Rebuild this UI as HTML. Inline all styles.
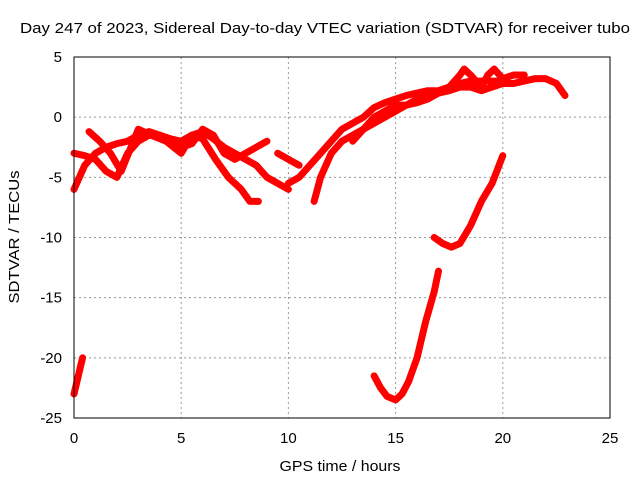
<!DOCTYPE html>
<html><head><meta charset="utf-8"><style>
body{margin:0;background:#fff}
svg{display:block;font-family:"Liberation Sans",sans-serif}
</style></head><body>
<svg id="chart" width="640" height="480">
<rect width="640" height="480" fill="#fff"/>
<text x="325" y="33" font-size="15" text-anchor="middle" textLength="610" lengthAdjust="spacingAndGlyphs">Day 247 of 2023, Sidereal Day-to-day VTEC variation (SDTVAR) for receiver tubo</text>
<text x="340" y="471" font-size="15" text-anchor="middle" textLength="121" lengthAdjust="spacingAndGlyphs">GPS time / hours</text>
<text transform="translate(19,237) rotate(-90)" font-size="15" text-anchor="middle" textLength="133" lengthAdjust="spacingAndGlyphs">SDTVAR / TECUs</text>
<g id="grid"></g><g id="series"></g>
<rect x="74" y="57" width="536" height="361" fill="none" stroke="#000"/>
</svg>
<script>
const xTicks=[0,5,10,15,20,25];
const yTicks=[5,0,-5,-10,-15,-20,-25];
const s1x=[0,0.5,1,1.5,2,2.5,3,3.5,4,4.5,5,5.5,6,6.5,7,7.5,8,8.5,9,9.5,10];
const s1y=[-6,-4,-3,-2.5,-2.2,-2,-1.5,-1.2,-1.5,-1.8,-2,-1.5,-1.2,-1.8,-2.5,-3,-3.5,-4,-5,-5.5,-6];
const s2x=[0,0.5,1,1.5,2,2.5,3,3.5,4,4.5,5,5.5,6,6.5,7,7.5,8,8.5,9];
const s2y=[-3,-3.2,-3.5,-4.5,-5,-3,-2,-1.5,-1.5,-2,-2.5,-2.2,-1,-1.5,-3,-3.5,-3,-2.5,-2];
const s3x=[0.7,1.2,1.7,2.2,3,3.6,4.3,5,5.5,6,6.6,7.2,7.8,8.2,8.6];
const s3y=[-1.2,-2,-3,-4.5,-1,-1.5,-2,-3,-1.5,-1.8,-3.5,-5,-6,-7,-7];
const s4x=[10,10.5,11,11.5,12,12.5,13,13.5,14,14.5,15,15.5,16,16.5,17,17.5,18,18.5,19,19.5,20];
const s4y=[-5.5,-5,-4,-3,-2,-1,-0.5,0,0.8,1.2,1.5,1.8,2,2.2,2.2,2.5,2.8,3,3,3,3];
const s5x=[11.2,11.5,12,12.5,13,13.5,14,14.5,15,15.5,16,16.5,17,17.5,18,18.5,19,19.5,20,20.5,21,21.5,22,22.5,22.9];
const s5y=[-7,-5,-3,-2,-1.5,-1,-0.5,0,0.5,1,1.2,1.5,2,2.2,2.5,2.5,2.2,2.5,2.8,2.8,3,3.2,3.2,2.8,1.8];
const s6x=[13,13.5,14,14.5,15,15.5,16,16.5,17,17.5,18,18.2,18.5,19,19.3,19.6,20,20.5,21];
const s6y=[-2,-1,0,0.5,1,1,1.5,1.8,2,2.5,3.5,4,3.5,2.5,3.5,4,3.2,3.5,3.5];
const s7x=[9.5,10,10.5];
const s7y=[-3,-3.5,-4];
const s8x=[14,14.3,14.6,15,15.3,15.6,16,16.4,16.8,17];
const s8y=[-21.5,-22.5,-23.2,-23.5,-23,-22,-20,-17,-14.5,-12.8];
const s9x=[16.8,17.2,17.6,18,18.5,19,19.5,20];
const s9y=[-10,-10.5,-10.8,-10.5,-9,-7,-5.5,-3.2];
const s10x=[0,0.2,0.4];
const s10y=[-23,-21.5,-20];
const NS="http://www.w3.org/2000/svg";
const X=v=>74+v*536/25, Y=v=>57+(5-v)*361/30;
const g=document.getElementById('grid'), s=document.getElementById('series');
function mk(t,a,p){const e=document.createElementNS(NS,t);for(const k in a)e.setAttribute(k,a[k]);p.appendChild(e);return e;}
xTicks.forEach(v=>{
 const l=mk('line',{x1:X(v),x2:X(v),y1:57,y2:418,stroke:'#999','stroke-dasharray':'2,3'},g);
 
 
 const t=mk('text',{x:X(v),y:443,'font-size':15,'text-anchor':'middle'},g);t.textContent=v;
 
 
});
yTicks.forEach(v=>{
 const l=mk('line',{x1:74,x2:610,y1:Y(v),y2:Y(v),stroke:'#999','stroke-dasharray':'2,3'},g);
 
 
 const t=mk('text',{x:62,y:Y(v)+5,'font-size':15,'text-anchor':'end'},g);t.textContent=v;
 
 
});
[[s1x,s1y],[s2x,s2y],[s3x,s3y],[s4x,s4y],[s5x,s5y],[s6x,s6y],[s7x,s7y],[s8x,s8y],[s9x,s9y],[s10x,s10y]].forEach((d,i)=>{
 const pts=d[0].map((x,j)=>X(x)+','+Y(d[1][j])).join(' ');
 const p=mk('polyline',{points:pts,fill:'none',stroke:'#ff0000','stroke-width':7,'stroke-linejoin':'round','stroke-linecap':'round'},s);
 
 
});
</script>
</body></html>
